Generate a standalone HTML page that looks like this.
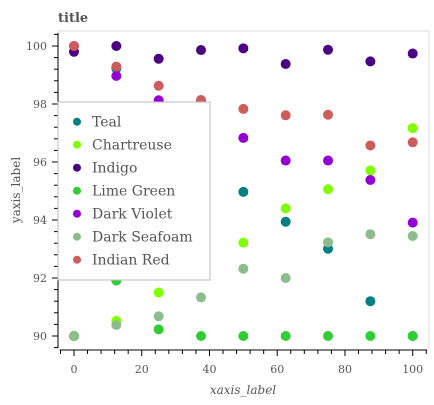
<!DOCTYPE html>
<html><head><meta charset="utf-8"><style>
body{margin:0;background:#fff}
svg text{font-family:"DejaVu Serif","Liberation Serif",serif;fill:#555}
</style></head><body>
<svg id="c" width="434" height="400" xmlns="http://www.w3.org/2000/svg"></svg>
<script>
const xs=[0,12.5,25,37.5,50,62.5,75,87.5,100];
const seriesNames=["Teal","Chartreuse","Indigo","Lime Green","Dark Violet","Dark Seafoam","Indian Red"];
const seriesColors=["#008080","#7fff00","#4b0082","#32cd32","#9400d3","#8fbc8f","#cd5c5c"];
const teal=[90,99.23,97.5,96,94.97,93.94,93.01,91.2,90];
const chartreuse=[90,90.52,91.5,92.5,93.22,94.4,95.06,95.71,97.17];
const indigo=[99.8,100,99.56,99.86,99.92,99.38,99.87,99.47,99.74];
const limeGreen=[90,91.91,90.23,90,90,90,90,90,90];
const darkViolet=[100,98.97,98.13,98.1,96.83,96.05,96.05,95.38,93.91];
const darkSeafoam=[90,90.38,90.68,91.33,92.32,92,93.23,93.51,93.45];
const indianRed=[100,99.29,98.63,98.14,97.83,97.61,97.63,96.57,96.68];
const xTicks=[0,20,40,60,80,100];
const yTicks=[90,92,94,96,98,100];
const allSeries=[teal,chartreuse,indigo,limeGreen,darkViolet,darkSeafoam,indianRed];
const NS="http://www.w3.org/2000/svg",svg=document.getElementById('c');
const X=v=>74+v*(412.7-74)/100, Y=v=>336-(v-90)*29;
function mk(t,a,p){const e=document.createElementNS(NS,t);for(const k in a)e.setAttribute(k,a[k]);(p||svg).appendChild(e);return e;}
let t=mk('text',{x:58,y:22,'font-size':13,'font-weight':'bold'});t.textContent='title';


let fr=mk('rect',{x:58,y:31,width:371,height:319,fill:'none',stroke:'#ddd'});


mk('line',{x1:58,y1:33,x2:58,y2:348,stroke:'#000'});
mk('line',{x1:60,y1:350,x2:427,y2:350,stroke:'#000'});
for(let v=89.6;v<=100.41;v+=0.4){const y=Y(v),maj=Math.abs(v-Math.round(v))<0.01&&Math.round(v)%2==0;mk('line',{x1:maj?52:54,x2:58,y1:y,y2:y,stroke:'#000'});}
yTicks.forEach(v=>{const e=mk('text',{x:47,y:Y(v)+4,'font-size':11,'text-anchor':'end'});e.textContent=v;

});
for(let v=-4;v<=104.1;v+=4){const x=X(v),maj=v%20==0;mk('line',{x1:x,x2:x,y1:350,y2:maj?356:354,stroke:'#000'});}
xTicks.forEach(v=>{const e=mk('text',{x:X(v),y:373,'font-size':11,'text-anchor':'middle'});e.textContent=v;

});
let xl=mk('text',{x:243,y:394,'font-size':12,'font-style':'italic','text-anchor':'middle'});xl.textContent='xaxis_label';


let yl=mk('text',{x:0,y:0,'font-size':12,'text-anchor':'middle',transform:'translate(20,190) rotate(-90)'});yl.textContent='yaxis_label';


allSeries.forEach((s,i)=>{const g=mk('g',{});


s.forEach((v,j)=>{const c=mk('circle',{cx:X(xs[j]),cy:Y(v),r:5,fill:seriesColors[i]},g);

});});
const lg=mk('g',{});


mk('rect',{x:58,y:102,width:152,height:178,fill:'#fff',stroke:'#bbb','stroke-width':1},lg);
seriesNames.forEach((n,i)=>{const y=121.7+i*23;
const e=mk('g',{},lg);


mk('circle',{cx:77,cy:y,r:4,fill:seriesColors[i]},e);
const tx=mk('text',{x:92,y:y+5,'font-size':14},e);tx.textContent=n;});
</script>
</body></html>
